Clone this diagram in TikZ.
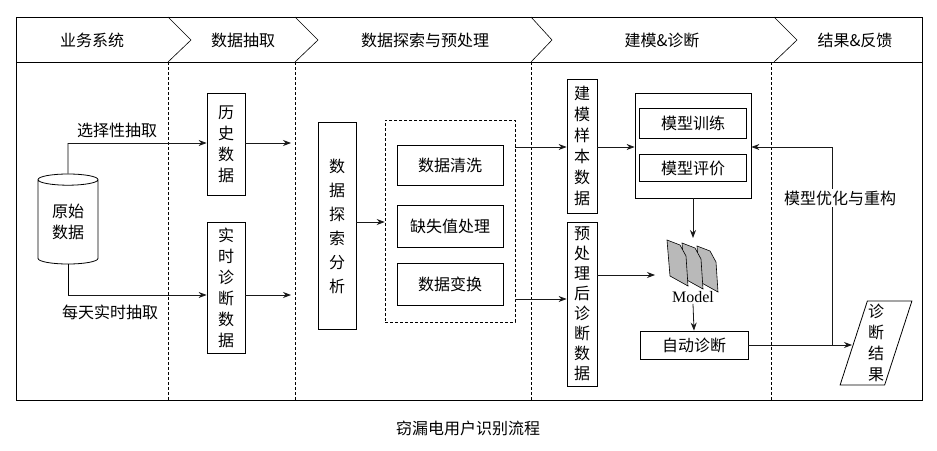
\documentclass[tikz,border=0pt]{standalone}
\usepackage{fontspec}
\setmainfont{Noto Sans CJK SC}
\newfontfamily\serifm{Liberation Serif}
\usetikzlibrary{shapes.geometric,arrows.meta}
\begin{document}
\begin{tikzpicture}[x=1pt,y=-1pt,
  every node/.style={font=\fontsize{16}{21}\selectfont},
  box/.style={draw,line width=0.8pt,inner sep=0pt,align=center},
  arr/.style={draw,line width=0.8pt,-{Stealth[length=8pt,width=6pt]},gray!20!black},
  lane/.style={dash pattern=on 3pt off 2pt,line width=0.6pt}]
\useasboundingbox (0,0) rectangle (937,450);
\fill[white] (0,0) rectangle (937,450);
% frame and header
\draw[line width=0.8pt] (16,17) rectangle (922,400);
\draw[line width=0.8pt] (16,62) -- (922,62);
\foreach \x/\t in {168/191,295/318,531/552,774/797}
  \draw[line width=0.6pt] (\x,17) -- (\t,40) -- (\x,62);
\node (h1) at (92,40) {业务系统};
\node (h2) at (243,40) {数据抽取};
\node (h3) at (425,40) {数据探索与预处理};
\node (h4) at (662,40) {建模\&诊断};
\node (h5) at (855,40) {结果\&反馈};
\foreach \x in {168,295,531,771}
  \draw[lane] (\x,62) -- (\x,400);
% source
\node[cylinder,shape border rotate=90,draw,line width=0.8pt,minimum width=60pt,minimum height=90pt,aspect=0.35,align=center,inner sep=0pt] (src) at (68,222) {原始\\数据};
\node[box,minimum width=38pt,minimum height=102pt] (hist) at (226,144) {历\\史\\数\\据};
\node[box,minimum width=38pt,minimum height=131pt] (rt) at (226,288) {实\\时\\诊\\断\\数\\据};
\coordinate (s1) at (68,143);
\coordinate (s2) at (68,295);
\draw[line width=0.8pt] (src.north) -- (s1);
\draw[line width=0.8pt] (src.south) -- (s2);
\draw[arr] (s1) -- (hist.west|-s1);
\draw[arr] (s2) -- (rt.west|-s2);
\node (l1) at (117,130) {选择性抽取};
\node (l2) at (110,312) {每天实时抽取};
\coordinate (e1) at (291,143);
\coordinate (e2) at (291,295);
\draw[arr] (hist.east|-e1) -- (e1);
\draw[arr] (rt.east|-e2) -- (e2);
% exploration
\node[box,minimum width=38pt,minimum height=207pt,font=\fontsize{16}{24}\selectfont] (exp) at (337,226) {数\\据\\探\\索\\分\\析};
\node[draw,lane,minimum width=130pt,minimum height=202pt,inner sep=0pt] (dash) at (450,221) {};
\node[box,minimum width=106pt,minimum height=40pt] (c1) at (450,165) {数据清洗};
\node[box,minimum width=106pt,minimum height=42pt] (c2) at (450,226) {缺失值处理};
\node[box,minimum width=106pt,minimum height=42pt] (c3) at (450,284) {数据变换};
\draw[arr] (exp.east|-0,222) -- (dash.west|-0,222);
% modelling
\node[box,minimum width=30pt,minimum height=134pt] (ms) at (582,146) {建\\模\\样\\本\\数\\据};
\node[box,minimum width=30pt,minimum height=164pt,font=\fontsize{16}{20}\selectfont] (pd) at (582,304) {预\\处\\理\\后\\诊\\断\\数\\据};
\draw[arr] (dash.east|-0,147) -- (ms.west|-0,147);
\draw[arr] (dash.east|-0,299) -- (pd.west|-0,299);
\node[box,minimum width=116pt,minimum height=105pt] (big) at (693,145.5) {};
\node[box,minimum width=107pt,minimum height=30pt] (tr) at (693,123) {模型训练};
\node[box,minimum width=107pt,minimum height=27pt] (ev) at (693,168) {模型评价};
\draw[arr] (ms.east|-0,147) -- (big.west|-0,147);
% model icon
\foreach \dx/\dy in {30/6,15/3,0/0}
  \filldraw[fill=gray!55,draw=black,line width=0.6pt] (667+\dx,240+\dy) -- (680+\dx,245+\dy) -- (686+\dx,256+\dy) -- (688+\dx,286+\dy) -- (670+\dx,276+\dy) -- cycle;
\draw[arr] (big.south) -- (693,238);
\node[font=\fontsize{16}{18}\selectfont\serifm,inner sep=1pt] (mlab) at (693,297) {Model};
\draw[arr] (pd.east|-0,275) -- (655,275);
\node[box,minimum width=108pt,minimum height=28pt] (auto) at (694,345) {自动诊断};
\draw[arr] (mlab.south) -- (auto.north);
% result
\node[trapezium,trapezium left angle=72,trapezium right angle=108,draw,line width=0.8pt,minimum width=40pt,minimum height=84pt,inner sep=0pt,align=center] (res) at (876,343) {诊\\断\\结\\果};
\draw[arr] (auto.east) -- (852,345);
\coordinate (f1) at (832,345);
\coordinate (f2) at (832,147);
\draw[arr] (f1) -- (f2) -- (big.east|-f2);
\node[fill=white,inner sep=2pt] (opt) at (840,198) {模型优化与重构};
% caption
\node (cap) at (468,428) {窃漏电用户识别流程};
\end{tikzpicture}
\end{document}
